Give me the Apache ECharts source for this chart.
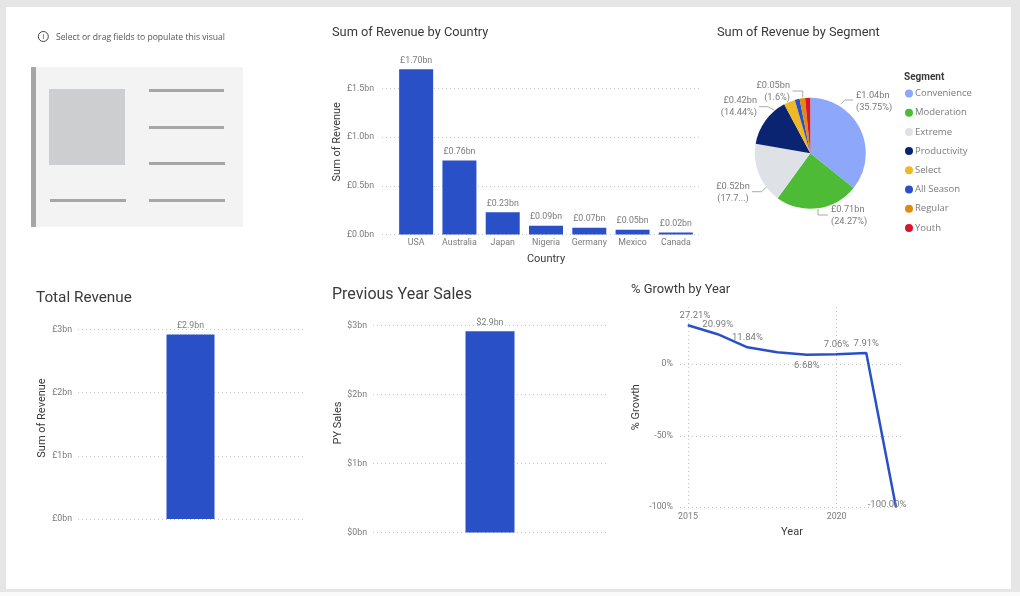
<!DOCTYPE html>
<html><head><meta charset="utf-8">
<style>html,body{margin:0;padding:0;background:#e6e6e6;width:1020px;height:596px;overflow:hidden}#c{position:absolute;left:0;top:0;width:1020px;height:596px}</style>
<script src="https://cdn.jsdelivr.net/npm/echarts@6/dist/echarts.min.js"></script>
</head><body><div id="c"></div>
<script>
const countries = ['USA','Australia','Japan','Nigeria','Germany','Mexico','Canada'];
const countryRevenue = [1.70,0.76,0.23,0.09,0.07,0.05,0.02];
const segments = ['Convenience','Moderation','Extreme','Productivity','Select','All Season','Regular','Youth'];
const segmentShare = [35.75,24.27,17.75,14.44,3.29,1.4,1.6,1.5];
const segmentLabels = ['£1.04bn\n(35.75%)','£0.71bn\n(24.27%)','£0.52bn\n(17.7...)','£0.42bn\n(14.44%)','','','£0.05bn\n(1.6%)',''];
const segmentColors = ['#8DA8FA','#4DBB36','#DEE1E6','#0A2472','#EFB825','#2A50C8','#E08A10','#D6172F'];
const totalRevenue = [2.92];
const previousYearSales = [2.92];
const years = [2015,2016,2017,2018,2019,2020,2021,2022];
const growth = [27.21,20.99,11.84,8.3,6.68,7.06,7.91,-100];
const unlabelledYears = [2018];

const BLUE='#2A50C8', GREY='#7b7b7b', DARK='#3a3a3a', FONT='Roboto', LABEL=8.8, NAME=11;
const dotted={show:true,lineStyle:{type:[1,3],color:'#c8c8c8',width:1},showMaxLine:false,showMinLine:true};
const title=(text,left,top,size,weight)=>({text,left,top,padding:0,textStyle:{fontFamily:FONT,fontSize:size,fontWeight:weight||'normal',color:DARK}});

const grids=[], xAxes=[], yAxes=[], series=[];
function frame(lineBox,plotBox,yMin,yMax,interval,fmt,name,nameGap,margin){
  const a=grids.length;
  grids.push({left:lineBox[0],width:lineBox[1]-lineBox[0],top:lineBox[2],height:lineBox[3]-lineBox[2]});
  grids.push({left:plotBox[0],width:plotBox[1]-plotBox[0],top:lineBox[2],height:lineBox[3]-lineBox[2]});
  xAxes.push({type:'value',gridIndex:a,min:0,max:1,show:false});
  yAxes.push({type:'value',gridIndex:a,min:yMin,max:yMax,interval,name,nameLocation:'middle',nameGap,
    nameTextStyle:{fontFamily:FONT,fontSize:NAME,color:DARK},
    axisLine:{show:false},axisTick:{show:false},splitLine:dotted,
    axisLabel:{showMaxLabel:false,formatter:fmt,fontFamily:FONT,fontSize:LABEL,color:GREY,margin,padding:[2,0,0,0]}});
  yAxes.push({type:'value',gridIndex:a+1,min:yMin,max:yMax,interval,show:false,splitLine:{show:false}});
  return a+1;
}
function barPanel(lineBox,plotBox,yMax,interval,fmt,name,nameGap,margin,cats,vals,labelFmt,barWidth,xName){
  const g=frame(lineBox,plotBox,0,yMax,interval,fmt,name,nameGap,margin);
  xAxes.push({type:'category',gridIndex:g,data:cats,axisLine:{show:false},axisTick:{show:false},
    name:xName,nameLocation:'middle',nameGap:19,nameTextStyle:{fontFamily:FONT,fontSize:NAME,color:DARK},
    axisLabel:{show:!!xName,interval:0,fontFamily:FONT,fontSize:LABEL,color:GREY,margin:4}});
  series.push({type:'bar',xAxisIndex:xAxes.length-1,yAxisIndex:g,data:vals,barWidth,
    itemStyle:{color:BLUE},
    label:{show:true,position:'top',distance:4,formatter:p=>labelFmt(p.value),fontFamily:FONT,fontSize:LABEL,color:GREY}});
}
barPanel([382,700,49,234.5],[394.5,697.5],1.908,0.5,v=>'£'+v.toFixed(1)+'bn','Sum of Revenue',38,8,
  countries,countryRevenue,v=>'£'+v.toFixed(2)+'bn',34,'Country');
barPanel([78,303,317,519],[78,303],3.196,1,v=>'£'+v+'bn','Sum of Revenue',29,6,
  ['Total'],totalRevenue,v=>'£'+v.toFixed(1)+'bn',48,'');
barPanel([373,607,313.5,532.5],[373,607],3.177,1,v=>'$'+v+'bn','PY Sales',29,6,
  ['PY'],previousYearSales,v=>'$'+v.toFixed(1)+'bn',49,'');

// growth line
const lg=frame([680,901,307,507.3],[688,896],-100,40,50,v=>v+'%','% Growth',38,7);
xAxes.push({type:'value',gridIndex:lg,min:2015,max:2022,interval:5,axisLine:{show:false},axisTick:{show:false},
  splitLine:dotted,name:'Year',nameLocation:'middle',nameGap:19,nameTextStyle:{fontFamily:FONT,fontSize:NAME,color:DARK},
  axisLabel:{showMaxLabel:false,formatter:v=>String(v),fontFamily:FONT,fontSize:LABEL,color:GREY,margin:5}});
const labelPlacement={2015:{position:'top',offset:[7,0]},2019:{position:'bottom',offset:[0,1]},2022:{position:'left',offset:[15,-3]}};
series.push({type:'line',xAxisIndex:xAxes.length-1,yAxisIndex:lg,smooth:false,symbol:'circle',symbolSize:1,showSymbol:true,showAllSymbol:true,
  lineStyle:{color:BLUE,width:2.5},itemStyle:{color:BLUE},
  data:years.map((y,i)=>({value:[y,growth[i]],
    label:{show:!unlabelledYears.includes(y),...(labelPlacement[y]||{position:'top'})}})),
  label:{show:true,distance:4,formatter:p=>p.value[1].toFixed(2)+'%',fontFamily:FONT,fontSize:9.5,color:GREY}});

// pie
const labelSpots={0:[856,90,'left'],1:[831,204,'left'],2:[733,181,'center'],3:[757,95,'right'],6:[790,80,'right']};
series.push({type:'pie',center:[810.3,153.3],radius:55.5,startAngle:90,clockwise:true,animation:false,
  data:segments.map((n,i)=>({name:n,value:segmentShare[i],itemStyle:{color:segmentColors[i]},
    label:{show:!!segmentLabels[i],formatter:segmentLabels[i]}})),
  label:{fontFamily:FONT,fontSize:9.2,lineHeight:12,color:GREY},
  labelLine:{show:false},
  labelLayout:p=>{const s=labelSpots[p.dataIndex];return s?{x:s[0],y:s[1],align:s[2],verticalAlign:'top'}:{};}});

const rect=(x,y,w,h,fill)=>({type:'rect',shape:{x,y,width:w,height:h},style:{fill},silent:true});
const leader=points=>({type:'polyline',shape:{points},style:{fill:'none',stroke:'#aaaaaa',lineWidth:1},silent:true});
const graphic=[
  {...rect(6,7,1005,582,'#ffffff'),z:-10},
  {...rect(0,592,1020,4,'#fafafa'),z:-10},
  rect(31,67,212,160,'#f3f3f3'),rect(31,67,5,160,'#a6a6a6'),rect(49,89,76,76,'#cdcecf'),
  rect(149,89,75,3,'#a6a6a6'),rect(149,126,75,3,'#a6a6a6'),rect(149,162,76,3,'#a6a6a6'),
  rect(50,199,76,3,'#a6a6a6'),rect(149,199,76,3,'#a6a6a6'),
  leader([[840.7,104],[845,100],[853,100]]),
  leader([[818,209],[818,215],[828,215]]),
  leader([[766.7,186.7],[761.7,191.7],[752,191.7]]),
  leader([[774,110],[768,106.7],[759,106.7]]),
  leader([[802.7,97.3],[802.7,91],[792.5,91]]),
  {type:'circle',shape:{cx:43.3,cy:36.5,r:5},style:{fill:'none',stroke:'#444',lineWidth:1}},
  {type:'text',x:43.3,y:36.7,style:{text:'i',font:'8px "Open Sans"',fill:'#444',align:'center',verticalAlign:'middle'}},
  {type:'text',x:56,y:37.7,style:{text:'Select or drag fields to populate this visual',font:'8.6px "Open Sans"',fill:'#555',verticalAlign:'middle'}}
];
const chart=echarts.init(document.getElementById('c'),null,{renderer:'canvas',width:1020,height:596});
chart.setOption({animation:false,backgroundColor:'transparent',
  title:[title('Sum of Revenue by Country',332,26,12.8),title('Sum of Revenue by Segment',717,26,12.8),
    title('Total Revenue',36,291,15.3),title('Previous Year Sales',332,287,16),title('% Growth by Year',631,283,12.9),
    title('Segment',904,72,10,'bold')],
  legend:{orient:'vertical',left:905,top:88.5,padding:0,data:segments,icon:'circle',itemWidth:8,itemHeight:8,itemGap:9.2,selectedMode:false,
    textStyle:{fontFamily:'Open Sans',fontSize:9.5,color:GREY,padding:[0,0,0,-3]}},
  grid:grids,xAxis:xAxes,yAxis:yAxes,series,graphic});
</script></body></html>
